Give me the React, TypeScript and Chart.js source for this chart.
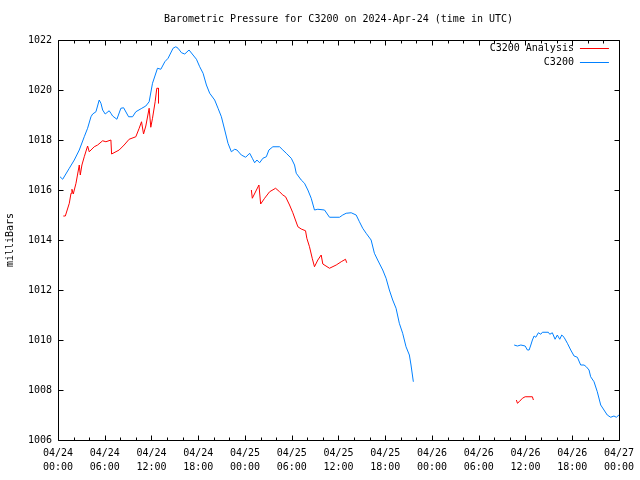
import React, { useEffect, useRef } from "react";
import { Chart, registerables } from "chart.js";

Chart.register(...registerables);

const TITLE = "Barometric Pressure for C3200 on 2024-Apr-24 (time in UTC)";
const Y_LABEL = "milliBars";
const SERIES_ANALYSIS = "C3200 Analysis";
const SERIES_OBS = "C3200";

// x axis: hours since 2024-04-24 00:00 UTC
const X_TICK_HOURS = [0, 6, 12, 18, 24, 30, 36, 42, 48, 54, 60, 66, 72];
const X_MINOR_HOURS = [2, 4, 8, 10, 14, 16, 20, 22, 26, 28, 32, 34, 38, 40, 44, 46, 50, 52, 56, 58, 62, 64, 68, 70];
const X_DATES = ["04/24", "04/24", "04/24", "04/24", "04/25", "04/25", "04/25", "04/25", "04/26", "04/26", "04/26", "04/26", "04/27"];
const X_TIMES = ["00:00", "06:00", "12:00", "18:00", "00:00", "06:00", "12:00", "18:00", "00:00", "06:00", "12:00", "18:00", "00:00"];
const Y_TICKS = [1006, 1008, 1010, 1012, 1014, 1016, 1018, 1020, 1022];

// C3200 observations (null = gap)
const obsHours = [
  0.26, 0.6, 1.45, 2.09, 2.73, 3.37, 3.8, 4.23, 4.45, 4.87, 5.29, 5.51, 5.73, 6.06, 6.57, 6.79, 7.01, 7.56,
  8.07, 8.42, 9.06, 9.57, 9.99, 10.76, 11.27, 11.7, 12.13, 12.77, 13.2, 13.71, 14.13, 14.77, 15.12, 15.41,
  15.85, 16.27, 16.82, 17.33, 17.77, 18.19, 18.62, 19.05, 19.47, 20.11, 20.54, 20.97, 21.4, 21.82, 22.25,
  22.68, 22.97, 23.53, 24.09, 24.6, 24.94, 25.24, 25.53, 25.88, 26.3, 26.74, 27.07, 27.58, 28.44, 28.86,
  29.3, 29.94, 30.36, 30.58, 31.22, 31.64, 32.07, 32.5, 32.92, 33.35, 34.21, 34.85, 36.13, 36.55, 36.99,
  37.63, 38.27, 38.69, 39.11, 39.55, 40.19, 40.61, 41.03, 41.68, 42.11, 42.53, 42.96, 43.39, 43.81, 44.24,
  44.67, 45.1, 45.31, 45.61,
  52,
  58.55, 58.97, 59.41, 59.96, 60.25, 60.47, 60.69, 60.89, 61.11, 61.33, 61.66, 61.97, 62.17, 62.94, 63.12,
  63.45, 63.8, 64.09, 64.4, 64.66, 64.95, 65.38, 65.81, 66.24, 66.66, 67.09, 67.52, 67.81, 68.16, 68.37,
  68.8, 69.22, 69.66, 70.08, 70.5, 70.94, 71.36, 71.66, 72.0,
];
const obsValues = [
  1016.53, 1016.43, 1016.87, 1017.2, 1017.6, 1018.13, 1018.47, 1018.93, 1019.04, 1019.13, 1019.6, 1019.47,
  1019.2, 1019.04, 1019.17, 1019.07, 1018.96, 1018.83, 1019.27, 1019.29, 1018.93, 1018.93, 1019.13, 1019.27,
  1019.36, 1019.53, 1020.27, 1020.87, 1020.83, 1021.13, 1021.27, 1021.67, 1021.73, 1021.67, 1021.49, 1021.44,
  1021.6, 1021.4, 1021.23, 1020.93, 1020.67, 1020.2, 1019.87, 1019.6, 1019.27, 1018.93, 1018.4, 1017.87,
  1017.53, 1017.63, 1017.6, 1017.4, 1017.31, 1017.47, 1017.27, 1017.09, 1017.2, 1017.09, 1017.27, 1017.33,
  1017.6, 1017.73, 1017.73, 1017.6, 1017.47, 1017.27, 1017.0, 1016.67, 1016.4, 1016.27, 1016.0, 1015.67,
  1015.2, 1015.23, 1015.2, 1014.91, 1014.91, 1015.0, 1015.07, 1015.09, 1015.0, 1014.73, 1014.47, 1014.27,
  1014.0, 1013.47, 1013.2, 1012.8, 1012.47, 1012.0, 1011.6, 1011.27, 1010.67, 1010.27, 1009.73, 1009.4,
  1009.0, 1008.33,
  null,
  1009.8, 1009.76, 1009.8, 1009.76, 1009.6, 1009.6, 1009.8, 1010.0, 1010.16, 1010.11, 1010.29, 1010.23,
  1010.31, 1010.31, 1010.23, 1010.29, 1010.03, 1010.2, 1010.03, 1010.2, 1010.11, 1009.87, 1009.6, 1009.36,
  1009.31, 1009.0, 1009.0, 1008.93, 1008.8, 1008.53, 1008.33, 1007.93, 1007.4, 1007.2, 1007.0, 1006.91,
  1006.96, 1006.91, 1007.0,
];

// C3200 Analysis (null = gap)
const anaHours = [
  0.68, 0.94, 1.45, 1.67, 1.79, 1.96, 2.31, 2.73, 2.86, 3.07, 3.37, 3.8, 4.01, 4.65, 5.09, 5.73, 6.15, 6.79,
  6.88, 7.85, 8.49, 9.13, 9.99, 10.42, 10.72, 10.98, 11.27, 11.7, 11.91, 12.13, 12.47, 12.68, 12.9, 12.9,
  18,
  24.82, 24.94, 25.79, 26.01, 26.52, 27.16, 27.93, 28.44, 28.86, 29.21, 29.72, 30.14, 30.79, 31.22, 31.77,
  31.94, 32.28, 32.63, 32.92, 33.35, 33.78, 33.99, 34.85, 35.71, 36.35, 36.9, 37.06,
  48,
  58.84, 58.97, 59.19, 59.61, 59.96, 60.89, 61.02,
];
const anaValues = [
  1014.96, 1014.96, 1015.47, 1015.87, 1016.03, 1015.84, 1016.27, 1017.0, 1016.6, 1017.0, 1017.33, 1017.76,
  1017.53, 1017.73, 1017.8, 1017.97, 1017.93, 1018.0, 1017.44, 1017.6, 1017.8, 1018.03, 1018.13, 1018.47,
  1018.73, 1018.24, 1018.56, 1019.27, 1018.51, 1018.87, 1019.53, 1020.07, 1020.07, 1019.47,
  null,
  1016.0, 1015.67, 1016.2, 1015.44, 1015.67, 1015.93, 1016.07, 1015.93, 1015.8, 1015.73, 1015.4, 1015.09,
  1014.53, 1014.44, 1014.37, 1014.07, 1013.73, 1013.27, 1012.93, 1013.2, 1013.4, 1013.04, 1012.87, 1013.0,
  1013.13, 1013.23, 1013.09,
  null,
  1007.6, 1007.47, 1007.53, 1007.67, 1007.73, 1007.73, 1007.6,
];

const RED = "#ff0000";
const BLUE = "rgb(0,128,255)";
const FONT_FAMILY = "'DejaVu Sans Mono', 'Liberation Mono', monospace";
const FONT = { family: FONT_FAMILY, size: 10, lineHeight: 1.4 };

const framePlugin = {
  id: "gnuplotFrame",
  afterDraw(chart: any) {
    const { ctx, chartArea } = chart;
    const { left, right, top, bottom } = chartArea;
    const xs = chart.scales.x;
    const ys = chart.scales.y;
    ctx.save();
    ctx.strokeStyle = "#000";
    ctx.lineWidth = 1;
    ctx.beginPath();
    const L = Math.round(left) + 0.5;
    const R = Math.round(right) + 0.5;
    const T = Math.round(top) + 0.5;
    const B = Math.round(bottom) + 0.5;
    ctx.moveTo(L, T);
    ctx.lineTo(R, T);
    ctx.lineTo(R, B);
    ctx.lineTo(L, B);
    ctx.closePath();
    const vTick = (h: number, len: number) => {
      const px = Math.round(xs.getPixelForValue(h)) + 0.5;
      ctx.moveTo(px, B);
      ctx.lineTo(px, B - len);
      ctx.moveTo(px, T);
      ctx.lineTo(px, T + len);
    };
    X_TICK_HOURS.forEach((h) => vTick(h, 5));
    X_MINOR_HOURS.forEach((h) => vTick(h, 3));
    Y_TICKS.forEach((v) => {
      const py = Math.round(ys.getPixelForValue(v)) + 0.5;
      ctx.moveTo(L, py);
      ctx.lineTo(L + 5, py);
      ctx.moveTo(R, py);
      ctx.lineTo(R - 5, py);
    });
    ctx.stroke();

    // title
    ctx.fillStyle = "#000";
    ctx.font = `10px ${FONT_FAMILY}`;
    ctx.textAlign = "center";
    ctx.textBaseline = "middle";
    ctx.fillText(TITLE, (left + right) / 2, 19);

    // legend (gnuplot style: right-aligned text, then line sample)
    const entries = [chart.data.datasets[0], chart.data.datasets[1]];
    entries.forEach((ds: any, i: number) => {
      const y = 48 + i * 14;
      ctx.textAlign = "right";
      ctx.fillStyle = "#000";
      ctx.fillText(ds.label, right - 45, y);
      ctx.beginPath();
      ctx.strokeStyle = ds.borderColor;
      ctx.moveTo(right - 39, Math.round(y) + 0.5);
      ctx.lineTo(right - 10, Math.round(y) + 0.5);
      ctx.stroke();
    });
    ctx.restore();
  },
};

export default function App() {
  const canvasRef = useRef<HTMLCanvasElement | null>(null);

  useEffect(() => {
    document.body.style.margin = "0";
    const canvas = canvasRef.current;
    if (!canvas) return;
    const toPoints = (hs: number[], vs: (number | null)[]) => hs.map((h, i) => ({ x: h, y: vs[i] }));
    const chart = new Chart(canvas, {
      type: "line",
      data: {
        datasets: [
          {
            label: SERIES_ANALYSIS,
            data: toPoints(anaHours, anaValues) as any,
            borderColor: RED,
            backgroundColor: RED,
            borderWidth: 1,
            pointRadius: 0,
            tension: 0,
            spanGaps: false,
          },
          {
            label: SERIES_OBS,
            data: toPoints(obsHours, obsValues) as any,
            borderColor: BLUE,
            backgroundColor: BLUE,
            borderWidth: 1,
            pointRadius: 0,
            tension: 0,
            spanGaps: false,
          },
        ],
      },
      options: {
        animation: false,
        responsive: false,
        maintainAspectRatio: false,
        layout: { padding: { top: 40, right: 20, bottom: 0, left: 0 } },
        plugins: {
          legend: { display: false },
          title: { display: false },
          tooltip: { enabled: false },
        },
        scales: {
          x: {
            type: "linear",
            min: 0,
            max: 72,
            afterBuildTicks: (s: any) => {
              s.ticks = X_TICK_HOURS.map((h) => ({ value: h }));
            },
            afterFit: (s: any) => {
              s.height = 40;
            },
            grid: { display: false, drawTicks: false },
            border: { display: false },
            ticks: {
              autoSkip: false,
              maxRotation: 0,
              minRotation: 0,
              padding: 6,
              color: "#000",
              font: FONT,
              callback: (_v: any, i: number) => [X_DATES[i], X_TIMES[i]],
            },
          },
          y: {
            type: "linear",
            min: 1006,
            max: 1022,
            afterBuildTicks: (s: any) => {
              s.ticks = Y_TICKS.map((v) => ({ value: v }));
            },
            afterFit: (s: any) => {
              s.width = 58;
            },
            grid: { display: false, drawTicks: false },
            border: { display: false },
            ticks: {
              padding: 6,
              color: "#000",
              font: FONT,
              callback: (v: any) => String(v),
            },
            title: {
              display: true,
              text: Y_LABEL,
              color: "#000",
              font: { family: FONT_FAMILY, size: 10, lineHeight: 1.2 },
              padding: { top: 4, bottom: 0 },
            },
          },
        },
      },
      plugins: [framePlugin],
    });
    return () => chart.destroy();
  }, []);

  return (
    <div style={{ width: 640, height: 480, background: "#fff" }}>
      <canvas ref={canvasRef} width={640} height={480} style={{ display: "block" }} />
    </div>
  );
}
